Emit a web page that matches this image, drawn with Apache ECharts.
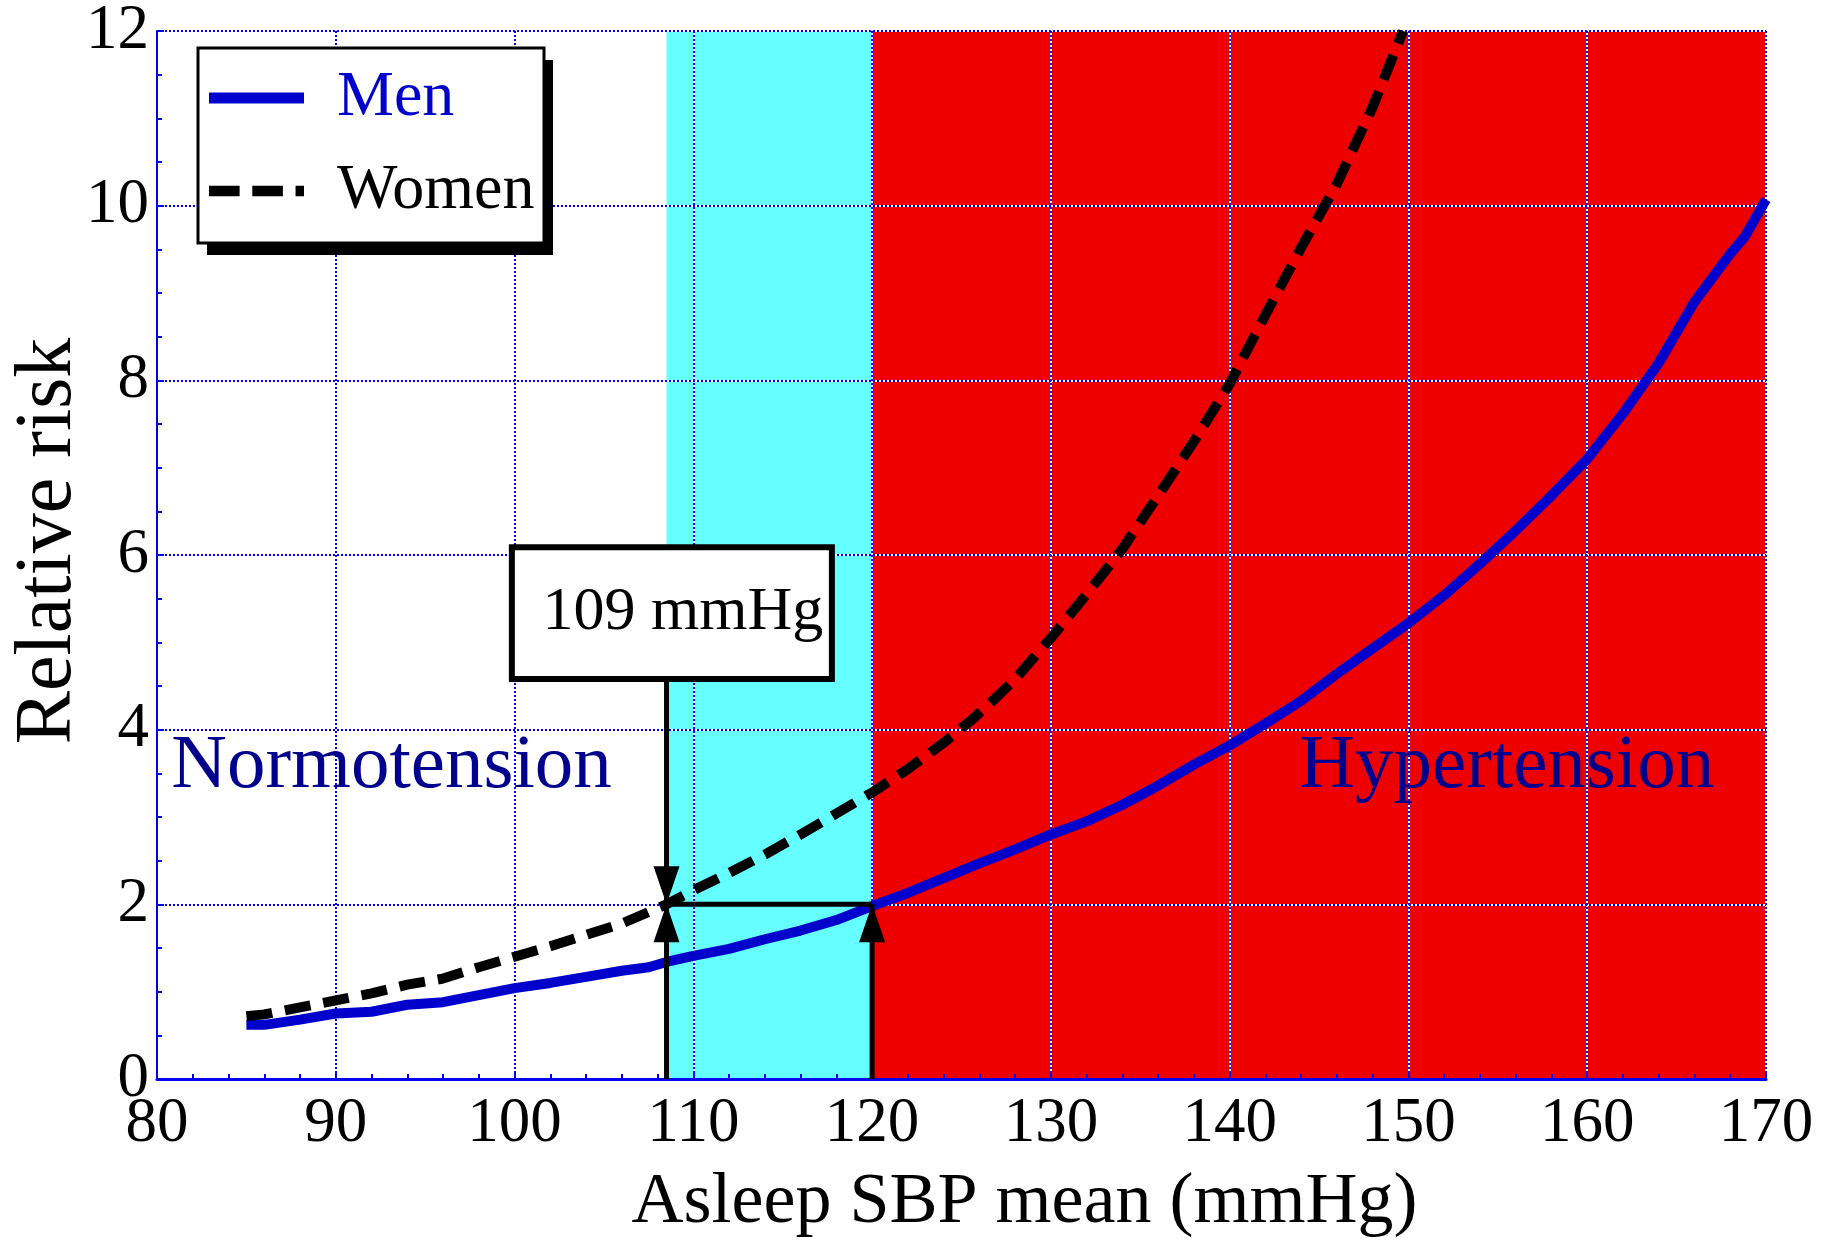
<!DOCTYPE html>
<html><head><meta charset="utf-8">
<script src="https://cdn.jsdelivr.net/npm/echarts@6/dist/echarts.min.js"></script>
<style>html,body{margin:0;padding:0;background:#fff}#c{width:1825px;height:1246px}</style>
</head><body><div id="c"></div>
<script>
// ---- data ----
const menSBP = [85, 86, 88, 90, 92, 94, 96, 98, 100, 102, 104, 106, 107.5, 108.5, 110, 112, 114, 116, 118, 120, 122, 124, 126, 128, 130, 132, 134, 136, 138, 140, 142, 144, 146, 148, 150, 152, 154, 156, 158, 160, 162, 164, 166, 168, 168.8, 170];
const menRR  = [0.62, 0.62, 0.68, 0.75, 0.77, 0.85, 0.88, 0.96, 1.04, 1.10, 1.17, 1.24, 1.28, 1.34, 1.41, 1.49, 1.60, 1.70, 1.82, 1.98, 2.13, 2.30, 2.47, 2.63, 2.80, 2.95, 3.14, 3.36, 3.60, 3.82, 4.07, 4.33, 4.64, 4.93, 5.22, 5.54, 5.90, 6.28, 6.68, 7.10, 7.62, 8.20, 8.90, 9.45, 9.64, 10.07];
const womenSBP = [85, 86, 88, 90, 92, 94, 96, 98, 100, 102, 104, 106, 108.5, 110, 112, 114, 116, 118, 120, 122, 124, 125.5, 127, 128, 130, 132, 134, 136, 138, 140, 142, 144, 146, 148, 149.7];
const womenRR  = [0.72, 0.74, 0.82, 0.90, 0.98, 1.08, 1.15, 1.28, 1.40, 1.52, 1.65, 1.78, 2.00, 2.16, 2.36, 2.57, 2.80, 3.04, 3.28, 3.55, 3.85, 4.10, 4.38, 4.58, 5.05, 5.55, 6.07, 6.68, 7.30, 7.96, 8.75, 9.52, 10.25, 11.13, 12.0];
const xTicks = {min: 80, max: 170, step: 10};
const yTicks = {min: 0, max: 12, step: 2};
const bandRanges = [[108.5, 120], [120, 170]];
const threshold = {sbpWomen: 108.5, sbpMen: 120, rr: 2};
const annoBox = {x0: 99.85, x1: 117.75, y0: 4.58, y1: 6.09, text: '109 mmHg'};
const regionLabels = [
  {text: 'Normotension', x: 80.8, y: 3.57, align: 'left'},
  {text: 'Hypertension', x: 155.5, y: 3.57, align: 'center'}
];
const legendNames = ['Men', 'Women'];

// ---- styles ----
const FONT = '"Liberation Serif", "Times New Roman", serif';
const bandColors = ['#66ffff', '#ee0000'];
const gridBlue = '#0000ee';
const menColor = '#0000cc';

const chart = echarts.init(document.getElementById('c'));
const zip = (a, b) => a.map((v, i) => [v, b[i]]);

function axisBase(t, isX) {
  return {
    type: 'value', min: t.min, max: t.max, interval: t.step, z: 2, gridIndex: 0,
    axisLine: {show: true, onZero: false, lineStyle: {color: gridBlue, width: isX ? 3 : 2}},
    axisTick: {show: true, inside: true, length: 7, lineStyle: {color: gridBlue, width: 2}},
    minorTick: {show: true, splitNumber: isX ? 5 : 4, length: 5, lineStyle: {color: gridBlue, width: 2}},
    axisLabel: {color: '#000', fontFamily: FONT, fontSize: 63, margin: isX ? 14 : 8},
    splitLine: {show: true, lineStyle: {color: gridBlue, width: 2, type: [2, 2]}}
  };
}
function underlay(t, pos) {
  return {
    type: 'value', min: t.min, max: t.max, interval: t.step, z: 1, gridIndex: 0, position: pos,
    axisLine: {show: false}, axisTick: {show: false}, axisLabel: {show: false},
    splitLine: {show: true, lineStyle: {color: '#ffffff', width: 2}}
  };
}

const option = {
  animation: false,
  backgroundColor: '#fff',
  grid: {left: 157, right: 59, top: 31, bottom: 167, outerBoundsMode: 'none', containLabel: false},
  graphic: [
    {type: 'rect', z: 5, silent: true, shape: {x: 207, y: 60, width: 346, height: 195}, style: {fill: '#000'}},
    {type: 'rect', z: 6, silent: true, shape: {x: 198, y: 48, width: 346, height: 195}, style: {fill: '#fff', stroke: '#000', lineWidth: 3}}
  ],
  legend: {
    orient: 'vertical', left: 209, top: 66,
    padding: 0,
    itemGap: 29, itemWidth: 95, itemHeight: 11,
    selectedMode: false,
    textStyle: {fontFamily: FONT, fontSize: 64, lineHeight: 60, padding: [0, 0, 0, 28]},
    data: [
      {name: legendNames[0], icon: 'rect', textStyle: {color: menColor}},
      {name: legendNames[1], icon: 'path://M0 0H29V10H0Z M41 0H70V10H41Z M82 0H90V10H82Z', textStyle: {color: '#000'}}
    ],
    z: 10
  },
  xAxis: [
    Object.assign(axisBase(xTicks, true), {
      name: 'Asleep SBP mean (mmHg)', nameLocation: 'middle', nameGap: 88, nameMoveOverlap: false,
      nameTextStyle: {color: '#000', fontFamily: FONT, fontSize: 72, padding: [0, 0, 0, 126]}
    }),
    underlay(xTicks, 'top')
  ],
  yAxis: [
    Object.assign(axisBase(yTicks, false), {
      name: 'Relative risk', nameLocation: 'middle', nameGap: 68, nameRotate: 90, nameMoveOverlap: false,
      nameTextStyle: {color: '#000', fontFamily: FONT, fontSize: 80, padding: [0, 0, 0, 28]}
    }),
    underlay(yTicks, 'right')
  ],
  series: [
    {
      name: 'bands', type: 'custom', xAxisIndex: 0, yAxisIndex: 0, z: 0, silent: true,
      data: bandRanges,
      renderItem(params, api) {
        const p0 = api.coord([api.value(0), yTicks.max]);
        const p1 = api.coord([api.value(1), yTicks.min]);
        return {type: 'rect', shape: {x: p0[0], y: p0[1], width: p1[0] - p0[0], height: p1[1] - p0[1]},
                style: {fill: bandColors[params.dataIndex]}};
      }
    },
    {
      name: legendNames[0], type: 'line', xAxisIndex: 0, yAxisIndex: 0, z: 3, symbol: 'none',
      data: zip(menSBP, menRR),
      lineStyle: {color: menColor, width: 10}, itemStyle: {color: menColor}
    },
    {
      name: legendNames[1], type: 'line', xAxisIndex: 0, yAxisIndex: 0, z: 3, symbol: 'none',
      data: zip(womenSBP, womenRR),
      lineStyle: {color: '#000', width: 10, type: [26, 13]}, itemStyle: {color: '#000'}
    },
    {
      name: 'annotations', type: 'custom', xAxisIndex: 0, yAxisIndex: 0, z: 4, clip: false, silent: true,
      data: [[0]],
      renderItem(params, api) {
        const c = (x, y) => api.coord([x, y]);
        const kids = [];
        const seg = (a, b) => kids.push({type: 'line', shape: {x1: a[0], y1: a[1], x2: b[0], y2: b[1]},
                                         style: {stroke: '#000', lineWidth: 5}});
        const tW = threshold.sbpWomen, tM = threshold.sbpMen, r = threshold.rr;
        seg(c(tW, 0), c(tW, annoBox.y0));
        seg(c(tW, r), c(tM, r));
        seg(c(tM, 0), c(tM, r));
        const arrow = (p, dir) => {
          const h = 38 * dir, w = 13;
          kids.push({type: 'polygon', shape: {points: [[p[0], p[1]], [p[0] - w, p[1] + h], [p[0] + w, p[1] + h]]},
                     style: {fill: '#000'}});
        };
        arrow(c(tW, r), -1);
        arrow(c(tW, r), 1);
        arrow(c(tM, r), 1);
        const b0 = c(annoBox.x0, annoBox.y1), b1 = c(annoBox.x1, annoBox.y0);
        kids.push({type: 'rect', shape: {x: b0[0], y: b0[1], width: b1[0] - b0[0], height: b1[1] - b0[1]},
                   style: {fill: '#fff', stroke: '#000', lineWidth: 6}});
        kids.push({type: 'text', x: (b0[0] + b1[0]) / 2 + 11, y: (b0[1] + b1[1]) / 2,
                   style: {text: annoBox.text, fill: '#000', font: '62px ' + FONT, align: 'center', verticalAlign: 'middle'}});
        regionLabels.forEach(l => {
          const p = c(l.x, l.y);
          kids.push({type: 'text', x: p[0], y: p[1],
                     style: {text: l.text, fill: '#00008c', font: '77px ' + FONT, align: l.align, verticalAlign: 'middle'}});
        });
        return {type: 'group', children: kids};
      }
    }
  ]
};
chart.setOption(option);
</script>
</body></html>
